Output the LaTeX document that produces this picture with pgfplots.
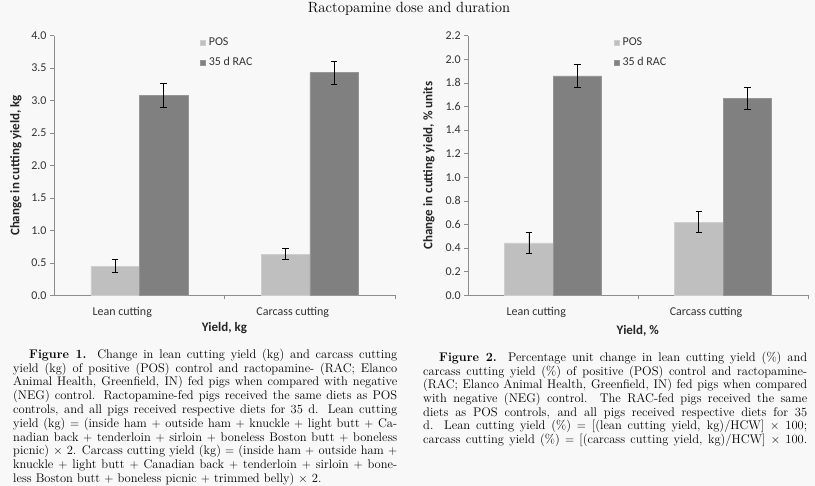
\documentclass[border=0pt]{standalone}
\usepackage{fontspec}
\newfontfamily\carlito{Carlito}
\usepackage{pgfplots}
\pgfplotsset{compat=1.18}

\definecolor{posgray}{RGB}{191,191,191}
\definecolor{posedge}{RGB}{206,206,206}
\definecolor{racgray}{RGB}{128,128,128}
\definecolor{racedge}{RGB}{150,150,150}
\definecolor{axisgray}{RGB}{140,140,140}
\definecolor{bg}{RGB}{248,248,248}

\pgfplotsset{
  cutbar/.style={
    scale only axis,
    ybar=0pt,
    bar width=48.5pt,
    xmin=-0.5, xmax=1.5,
    ymin=0,
    axis x line*=bottom,
    axis y line*=left,
    axis line style={axisgray, line width=0.6pt},
    xtick={0,1},
    xticklabels={Lean cutting, Carcass cutting},
    major x tick style={draw=none},
    minor xtick={0.5,1.5},
    minor x tick style={axisgray, line width=0.6pt},
    y tick style={axisgray, line width=0.6pt},
    major tick length=4pt,
    minor tick length=4pt,
    tick align=outside,
    tick label style={font=\carlito\fontsize{12}{14}\selectfont, text=black!80},
    /pgf/number format/assume math mode=true,
    yticklabel style={/pgf/number format/.cd, fixed, fixed zerofill, precision=1},
    xticklabel style={xshift=-17pt, yshift=-4.5pt},
    label style={font=\carlito\bfseries\fontsize{13}{15}\selectfont, text=black!85},
    legend image code/.code={\fill[##1] (0pt,-2.5pt) rectangle (5pt,2.5pt);},
    legend cell align=left,
    legend style={draw=none, fill=none, inner sep=0pt,
      at={(axis description cs:0.427,0.993)}, anchor=north west,
      row sep=9pt,
      /tikz/every odd column/.style={column sep=2.5pt},
      font=\carlito\fontsize{12}{14}\selectfont, text=black!80,
      nodes={inner sep=1pt, text height=7pt, text depth=2pt}},
    error bars/y dir=both,
    error bars/y explicit,
    error bars/error bar style={black, line width=0.9pt},
    error bars/error mark options={black, rotate=90, mark size=3.3pt, line width=0.9pt},
  },
  posbar/.style={fill=posgray, draw=posedge, line width=0.5pt},
  racbar/.style={fill=racgray, draw=racedge, line width=0.5pt},
}

\begin{document}
\begin{tikzpicture}
\path[use as bounding box, fill=bg] (0pt,0pt) rectangle (815pt,-486pt);

\node[anchor=base, font=\fontsize{14.8}{17}\selectfont] at (409pt,-12.7pt) {Ractopamine dose and duration};

% Figure 1: yield in kg
\begin{axis}[cutbar,
    at={(54pt,-295.3pt)}, anchor=south west,
    width=341pt, height=259.6pt,
    ymax=4,
    ytick={0,0.5,1,1.5,2,2.5,3,3.5,4},
    xlabel={Yield, kg},
    ylabel={Change in cutting yield, kg},
    xlabel style={at={(axis description cs:0.5,-0.128)}, anchor=center},
    ylabel style={at={(axis description cs:-0.112,0.5)}, anchor=center},
]
\addplot[posbar] coordinates {(0,0.45) +- (0,0.095) (1,0.635) +- (0,0.09)};
\addplot[racbar] coordinates {(0,3.08) +- (0,0.19) (1,3.43) +- (0,0.175)};
\legend{POS, 35 d RAC}
\end{axis}

% Figure 2: yield in percentage units
\begin{axis}[cutbar,
    at={(468.3pt,-295.3pt)}, anchor=south west,
    width=339.7pt, height=259.6pt,
    ymax=2.2,
    ytick={0,0.2,0.4,0.6,0.8,1.0,1.2,1.4,1.6,1.8,2.0,2.2},
    xlabel={Yield, \%},
    ylabel={Change in cutting yield, \% units},
    xlabel style={at={(axis description cs:0.499,-0.136)}, anchor=center},
    ylabel style={at={(axis description cs:-0.116,0.5)}, anchor=center},
]
\addplot[posbar] coordinates {(0,0.445) +- (0,0.09) (1,0.62) +- (0,0.088)};
\addplot[racbar] coordinates {(0,1.86) +- (0,0.095) (1,1.67) +- (0,0.092)};
\legend{POS, 35 d RAC}
\end{axis}

\node[anchor=base west, inner sep=0pt] at (13pt,-358.3pt) {\parbox[t]{384pt}{%
\fontsize{12.5}{13.8}\selectfont
\hbox to\hsize{\kern16pt\textbf{Figure 1.} Change in lean cutting yield (kg) and carcass cutting}
\hbox to\hsize{yield (kg) of positive (POS) control and ractopamine- (RAC; Elanco}
\hbox to\hsize{Animal Health, Greenfield, IN) fed pigs when compared with negative}
\hbox to\hsize{(NEG) control. Ractopamine-fed pigs received the same diets as POS}
\hbox to\hsize{controls, and all pigs received respective diets for 35 d. Lean cutting}
\hbox to\hsize{yield (kg) $=$ (inside ham $+$ outside ham $+$ knuckle $+$ light butt $+$ Ca-}
\hbox to\hsize{nadian back $+$ tenderloin $+$ sirloin $+$ boneless Boston butt $+$ boneless}
\hbox to\hsize{picnic) $\times$ 2. Carcass cutting yield (kg) $=$ (inside ham $+$ outside ham $+$}
\hbox to\hsize{knuckle $+$ light butt $+$ Canadian back $+$ tenderloin $+$ sirloin $+$ bone-}
\hbox{less Boston butt $+$ boneless picnic $+$ trimmed belly) $\times$ 2.}}};

\node[anchor=base west, inner sep=0pt] at (423pt,-361.7pt) {\parbox[t]{384pt}{%
\fontsize{12.5}{13.6}\selectfont
\hbox to\hsize{\kern16pt\textbf{Figure 2.} Percentage unit change in lean cutting yield (\%) and}
\hbox to\hsize{carcass cutting yield (\%) of positive (POS) control and ractopamine-}
\hbox to\hsize{(RAC; Elanco Animal Health, Greenfield, IN) fed pigs when compared}
\hbox to\hsize{with negative (NEG) control. The RAC-fed pigs received the same}
\hbox to\hsize{diets as POS controls, and all pigs received respective diets for 35}
\hbox to\hsize{d. Lean cutting yield (\%) $=$ [(lean cutting yield, kg)/HCW] $\times$ 100;}
\hbox to\hsize{carcass cutting yield (\%) $=$ [(carcass cutting yield, kg)/HCW] $\times$ 100.}}};
\end{tikzpicture}
\end{document}
